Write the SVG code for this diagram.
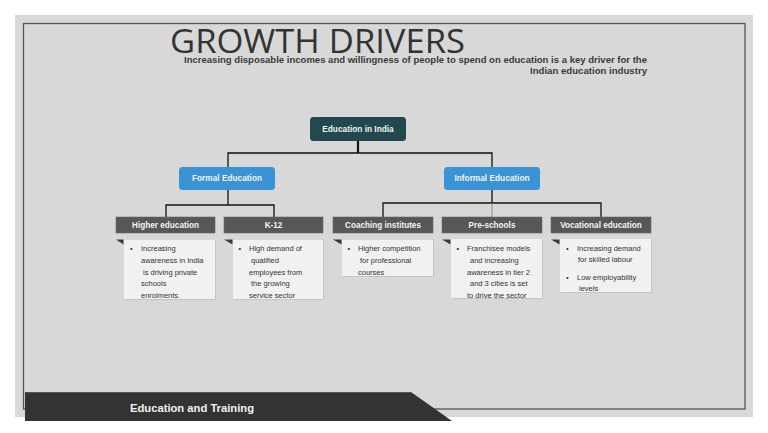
<svg xmlns="http://www.w3.org/2000/svg" width="768" height="433" viewBox="0 0 768 433">
<defs>
<style>
.hdr{fill:#575757;stroke:#6a6a6a;stroke-width:0.6}
.hdrt{font-family:"Liberation Sans",Arial,sans-serif;font-weight:bold;font-size:8.2px;fill:#f4f4f4;text-anchor:middle}
.body{fill:#f1f1f1}
.shadow{fill:#c4c4c4}
.tri{fill:#3a3a3a}
.bt{font-family:"Liberation Sans",Arial,sans-serif;font-size:7.5px;fill:#333}
.btn{font-family:"Liberation Sans",Arial,sans-serif;font-weight:bold;font-size:8.3px;fill:#f2f2f2;text-anchor:middle}
.ln{stroke:#111;stroke-width:1.3;fill:none}
</style>
</defs>
<rect x="0" y="0" width="768" height="433" fill="#ffffff"/>
<rect x="15" y="15" width="738" height="402" fill="#d9d9d9"/>
<rect x="23.5" y="23.5" width="721.5" height="385.5" fill="#d8d8d8" stroke="#555" stroke-width="1.3"/>

<g id="title">
<text x="170" y="52.5" font-family="'Open Sans','DejaVu Sans',sans-serif" font-size="33" fill="#333" textLength="295" lengthAdjust="spacingAndGlyphs">GROWTH DRIVERS</text>
<text x="647" y="62.5" text-anchor="end" font-family="'Liberation Sans Narrow','Liberation Sans',Arial,sans-serif" font-weight="bold" font-size="9.5" fill="#3a3a3a" textLength="463" lengthAdjust="spacingAndGlyphs">Increasing disposable incomes and willingness of people to spend on education is a key driver for the</text>
<text x="647" y="74" text-anchor="end" font-family="'Liberation Sans Narrow','Liberation Sans',Arial,sans-serif" font-weight="bold" font-size="9.5" fill="#3a3a3a" textLength="117" lengthAdjust="spacingAndGlyphs">Indian education industry</text>
</g>

<g id="connectors">
<line x1="358" y1="141" x2="358" y2="153" stroke="#111" stroke-width="2.2"/>
<path class="ln" d="M228,167 V153 H492 V167"/>
<path class="ln" d="M228,190 V205 M166,217 V205 H274 V217"/>
<path class="ln" d="M492,190 V203 M383,217 V203 H601 V217"/>
<line x1="492" y1="203" x2="492" y2="217" stroke="#777" stroke-width="0.8"/>
</g>

<g id="root">
<rect x="310" y="117" width="96" height="24" rx="3.5" fill="#234850"/>
<text class="btn" x="358" y="131.9">Education in India</text>
</g>
<g id="formal">
<rect x="179" y="167" width="96" height="23" rx="3.5" fill="#3a93d5"/>
<text class="btn" x="227" y="181.4">Formal Education</text>
</g>
<g id="informal">
<rect x="444" y="167" width="96" height="23" rx="3.5" fill="#3a93d5"/>
<text class="btn" x="492" y="181.4">Informal Education</text>
</g>

<g id="higher">
<rect class="hdr" x="116" y="217" width="99" height="16"/>
<text class="hdrt" x="165.5" y="228.4">Higher education</text>
<rect class="shadow" x="125" y="241" width="91" height="59"/>
<rect class="body" x="124" y="240" width="91" height="59"/>
<polygon class="tri" points="116,239.5 123.5,239.5 123.5,244.5"/>
<text class="bt" x="130" y="251">•</text>
<text class="bt" x="141" y="251">Increasing</text>
<text class="bt" x="141" y="262.5">awareness in India</text>
<text class="bt" x="143" y="274.5">is driving private</text>
<text class="bt" x="141" y="286">schools</text>
<text class="bt" x="141" y="297.5">enrolments.</text>
</g>

<g id="k12">
<rect class="hdr" x="224" y="217" width="99" height="16"/>
<text class="hdrt" x="273.5" y="228.4">K-12</text>
<rect class="shadow" x="234" y="241" width="90" height="59"/>
<rect class="body" x="233" y="240" width="90" height="59"/>
<polygon class="tri" points="224,239.5 232.5,239.5 232.5,244.5"/>
<text class="bt" x="238.5" y="251">•</text>
<text class="bt" x="249" y="251">High demand of</text>
<text class="bt" x="251" y="262.5">qualified</text>
<text class="bt" x="249" y="274.5">employees from</text>
<text class="bt" x="251" y="286">the growing</text>
<text class="bt" x="249" y="297.5">service sector</text>
</g>

<g id="coaching">
<rect class="hdr" x="333" y="217" width="100" height="16"/>
<text class="hdrt" x="383" y="228.4">Coaching institutes</text>
<rect class="shadow" x="343" y="241" width="91" height="36"/>
<rect class="body" x="342" y="240" width="91" height="36"/>
<polygon class="tri" points="333,239.5 341.5,239.5 341.5,244.5"/>
<text class="bt" x="347.5" y="251">•</text>
<text class="bt" x="358" y="251">Higher competition</text>
<text class="bt" x="360" y="262.5">for professional</text>
<text class="bt" x="358" y="274.5">courses</text>
</g>

<g id="preschools">
<rect class="hdr" x="442" y="217" width="100" height="16"/>
<text class="hdrt" x="492" y="228.4">Pre-schools</text>
<rect class="shadow" x="452" y="240" width="91" height="59"/>
<rect class="body" x="451" y="239" width="91" height="59"/>
<polygon class="tri" points="442,239.5 450.5,239.5 450.5,244.5"/>
<text class="bt" x="456.5" y="251">•</text>
<text class="bt" x="467" y="251">Franchisee models</text>
<text class="bt" x="470" y="262.5">and increasing</text>
<text class="bt" x="467" y="274.5">awareness in tier 2</text>
<text class="bt" x="470" y="286">and 3 cities is set</text>
<text class="bt" x="467" y="297.5">to drive the sector</text>
</g>

<g id="vocational">
<rect class="hdr" x="551" y="217" width="100" height="16"/>
<text class="hdrt" x="601" y="228.4">Vocational education</text>
<rect class="shadow" x="561" y="240" width="91" height="53"/>
<rect class="body" x="560" y="239" width="91" height="53"/>
<polygon class="tri" points="551,239.5 559.5,239.5 559.5,244.5"/>
<text class="bt" x="566" y="251">•</text>
<text class="bt" x="577" y="251">Increasing demand</text>
<text class="bt" x="578" y="262">for skilled labour</text>
<text class="bt" x="566" y="279.5">•</text>
<text class="bt" x="577" y="279.5">Low employability</text>
<text class="bt" x="579" y="290.5">levels</text>
</g>

<g id="banner">
<polygon points="25,392 411,392 452,421 25,421" fill="#333"/>
<line x1="25" y1="392.5" x2="411" y2="392.5" stroke="#555" stroke-width="1"/>
<text x="130" y="411.5" font-family="'Liberation Sans Narrow','Liberation Sans',Arial,sans-serif" font-weight="bold" font-size="11" fill="#f2f2f2" textLength="124" lengthAdjust="spacingAndGlyphs">Education and Training</text>
</g>
</svg>
